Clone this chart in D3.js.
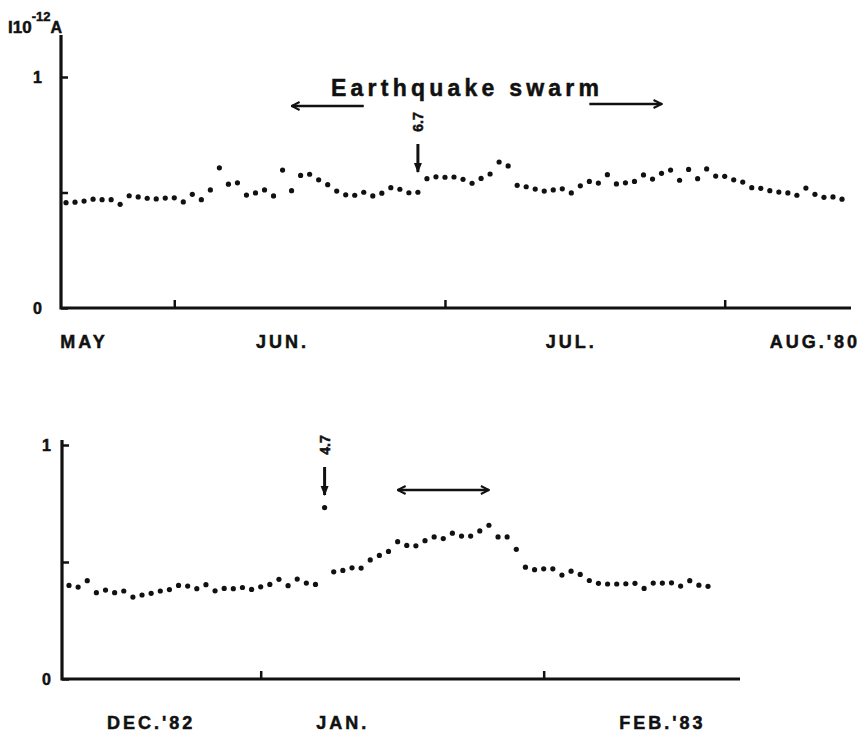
<!DOCTYPE html>
<html>
<head>
<meta charset="utf-8">
<script src="https://cdn.jsdelivr.net/npm/d3@7"></script>
<style>
body { margin: 0; background: #fff; }
svg text { font-family: "Liberation Sans", Arial, sans-serif; font-weight: bold; fill: #111; stroke: #111; stroke-width: 0.5px; }
</style>
</head>
<body>
<div id="chart"></div>
<script>

//Daily current readings (x10^-12 A), summer 1980, first value on May 20
var start1980 = "1980-05-20";
var current1980 = [
    0.456, 0.458, 0.463, 0.471, 0.469, 0.469, 0.449, 0.486, 0.481, 0.475,
    0.472, 0.476, 0.477, 0.459, 0.492, 0.469, 0.511, 0.607, 0.536, 0.542,
    0.489, 0.498, 0.511, 0.485, 0.597, 0.508, 0.574, 0.579, 0.555, 0.534,
    0.506, 0.490, 0.488, 0.501, 0.485, 0.497, 0.521, 0.514, 0.499, 0.501,
    0.560, 0.568, 0.566, 0.567, 0.557, 0.540, 0.561, 0.580, 0.632, 0.615,
    0.531, 0.525, 0.515, 0.506, 0.511, 0.516, 0.498, 0.529, 0.548, 0.541,
    0.577, 0.537, 0.542, 0.548, 0.576, 0.558, 0.583, 0.597, 0.553, 0.600,
    0.560, 0.602, 0.571, 0.570, 0.555, 0.545, 0.521, 0.518, 0.508, 0.502,
    0.498, 0.488, 0.519, 0.492, 0.479, 0.481, 0.471
];
var monthTicks1980 = ["1980-06-01", "1980-07-01", "1980-08-01"];
var monthNames1980 = ["MAY", "JUN.", "JUL.", "AUG.'80"];
var monthLabelDates1980 = ["1980-05-22", "1980-06-13", "1980-07-15", "1980-08-11"];
var quakeDate1980 = "1980-06-28";
var quakeMag1980 = "6.7";
var swarmLeft1980 = ["1980-06-22", "1980-06-14"];
var swarmRight1980 = ["1980-07-17", "1980-07-25"];

//Daily current readings, winter 1982-83, first value on Dec 11
var start1982 = "1982-12-11";
var current1982 = [
    0.400, 0.393, 0.420, 0.369, 0.380, 0.369, 0.376, 0.350, 0.359, 0.366,
    0.376, 0.382, 0.400, 0.397, 0.386, 0.403, 0.377, 0.387, 0.386, 0.391,
    0.383, 0.394, 0.404, 0.426, 0.399, 0.427, 0.410, 0.404, 0.732, 0.458,
    0.464, 0.475, 0.474, 0.509, 0.528, 0.545, 0.587, 0.571, 0.569, 0.591,
    0.607, 0.600, 0.623, 0.611, 0.611, 0.633, 0.657, 0.607, 0.607, 0.554,
    0.478, 0.467, 0.471, 0.471, 0.444, 0.461, 0.447, 0.421, 0.409, 0.406,
    0.406, 0.407, 0.409, 0.387, 0.410, 0.410, 0.411, 0.397, 0.420, 0.401,
    0.396
];
var monthTicks1982 = ["1983-01-01", "1983-02-01"];
var monthNames1982 = ["DEC.'82", "JAN.", "FEB.'83"];
var monthLabelDates1982 = ["1982-12-20", "1983-01-10", "1983-02-14"];
var quakeDate1982 = "1983-01-08";
var quakeMag1982 = "4.7";
var swarm1982 = ["1983-01-16", "1983-01-26"];

var yTicks = [0, 0.5, 1];

var parse = d3.timeParse("%Y-%m-%d");

function setChart(){

    var svg = d3.select('#chart')
        .append('svg')
        .attr('width', 868)
        .attr('height', 738)
        .style('background', '#fff');

    //Arrow heads
    var defs = svg.append('defs');
    defs.append('marker')
        .attr('id', 'head')
        .attr('viewBox', '0 0 10 10')
        .attr('refX', 9).attr('refY', 5)
        .attr('markerWidth', 4).attr('markerHeight', 4)
        .attr('orient', 'auto-start-reverse')
        .append('path')
        .attr('d', 'M1,1 L9,5 L1,9')
        .attr('fill', 'none')
        .attr('stroke', '#111')
        .attr('stroke-width', 2);
    defs.append('marker')
        .attr('id', 'solid')
        .attr('viewBox', '0 0 10 10')
        .attr('refX', 9).attr('refY', 5)
        .attr('markerWidth', 3.5).attr('markerHeight', 3.5)
        .attr('orient', 'auto')
        .append('path')
        .attr('d', 'M0,1 L10,5 L0,9 Z')
        .attr('fill', '#111');

    //Unit label
    var unit = svg.append('text').attr('x', 8).attr('y', 33).style('font-size', '17px');
    unit.append('tspan').text('I10');
    unit.append('tspan').attr('dy', -12).style('font-size', '13px').text('-12');
    unit.append('tspan').attr('dy', 12).style('font-size', '16px').text('A');

    //Top panel
    var p1 = drawPanel(svg, {
        start: start1980, values: current1980,
        x0: 61, x1: 851, yZero: 308, yOne: 77, yTop: 35,
        first: start1980, last: "1980-08-14", r0: 66, r1: 842,
        ticks: monthTicks1980, names: monthNames1980, labelDates: monthLabelDates1980,
        labelY: 348, labelPad: 19
    });

    //Earthquake swarm heading and arrows
    svg.append('text')
        .attr('x', 331).attr('y', 96)
        .attr('textLength', 268)
        .attr('lengthAdjust', 'spacing')
        .style('font-size', '23px')
        .text('Earthquake  swarm');
    svg.append('line')
        .attr('x1', p1.x(parse(swarmLeft1980[0]))).attr('x2', p1.x(parse(swarmLeft1980[1])))
        .attr('y1', 106).attr('y2', 106)
        .attr('stroke', '#111').attr('stroke-width', 2.5)
        .attr('marker-end', 'url(#head)');
    svg.append('line')
        .attr('x1', p1.x(parse(swarmRight1980[0]))).attr('x2', p1.x(parse(swarmRight1980[1])))
        .attr('y1', 104).attr('y2', 104)
        .attr('stroke', '#111').attr('stroke-width', 2.5)
        .attr('marker-end', 'url(#head)');
    drawQuake(svg, p1.x(parse(quakeDate1980)), quakeMag1980, 122, 144, 172);

    //Bottom panel
    var p2 = drawPanel(svg, {
        start: start1982, values: current1982,
        x0: 62, x1: 740, yZero: 679, yOne: 445, yTop: 440,
        first: start1982, last: "1983-02-19", r0: 69, r1: 708,
        ticks: monthTicks1982, names: monthNames1982, labelDates: monthLabelDates1982,
        labelY: 729, labelPad: 11
    });
    drawQuake(svg, p2.x(parse(quakeDate1982)), quakeMag1982, 445, 467, 495);
    svg.append('line')
        .attr('x1', p2.x(parse(swarm1982[0]))).attr('x2', p2.x(parse(swarm1982[1])))
        .attr('y1', 490).attr('y2', 490)
        .attr('stroke', '#111').attr('stroke-width', 2.5)
        .attr('marker-start', 'url(#head)')
        .attr('marker-end', 'url(#head)');
};

function drawPanel(svg, c){

    var x = d3.scaleTime()
        .domain([parse(c.first), parse(c.last)])
        .range([c.r0, c.r1]);
    var y = d3.scaleLinear()
        .domain([0, 1])
        .range([c.yZero, c.yOne]);

    var g = svg.append('g');

    //Y axis with inward stubs
    var yAxis = g.append('g')
        .attr('transform', 'translate(' + c.x0 + ',0)')
        .call(d3.axisLeft(y)
            .tickValues(yTicks)
            .tickSize(-7)
            .tickPadding(c.labelPad)
            .tickFormat(function (d) { return d === 0.5 ? '' : d3.format('d')(d); }));
    yAxis.select('.domain').remove();
    yAxis.selectAll('line').attr('stroke', '#111').attr('stroke-width', 2.5);
    yAxis.selectAll('text')
        .style('font-size', '16px')
        .style('font-family', '"Liberation Sans", Arial, sans-serif')
        .style('font-weight', 'bold')
        .attr('fill', '#111');

    //X axis with upward month ticks
    var xAxis = g.append('g')
        .attr('transform', 'translate(0,' + c.yZero + ')')
        .call(d3.axisBottom(x)
            .tickValues(c.ticks.map(parse))
            .tickSize(-8)
            .tickFormat(''));
    xAxis.select('.domain').remove();
    xAxis.selectAll('line').attr('stroke', '#111').attr('stroke-width', 2.5);

    //Axis lines
    g.append('path')
        .attr('d', 'M' + c.x0 + ',' + c.yTop + 'V' + c.yZero + 'H' + c.x1)
        .attr('fill', 'none')
        .attr('stroke', '#111')
        .attr('stroke-width', 3.2);

    //Month names
    g.selectAll('.month')
        .data(c.names)
        .enter()
        .append('text')
        .attr('class', 'month')
        .attr('x', function (d, i) { return x(parse(c.labelDates[i])); })
        .attr('y', c.labelY)
        .attr('text-anchor', 'middle')
        .style('font-size', '18px')
        .style('letter-spacing', '3px')
        .text(function (d) { return d; });

    //Daily dots
    var t0 = parse(c.start);
    g.selectAll('.dot')
        .data(c.values)
        .enter()
        .append('circle')
        .attr('class', 'dot')
        .attr('cx', function (d, i) { return x(d3.timeDay.offset(t0, i)); })
        .attr('cy', function (d) { return y(d); })
        .attr('r', 2.6)
        .attr('fill', '#111');

    return { x: x, y: y };
};

function drawQuake(svg, xq, mag, textY, y1, y2){
    svg.append('text')
        .attr('transform', 'translate(' + (xq + 5) + ',' + textY + ') rotate(-90)')
        .attr('text-anchor', 'middle')
        .style('font-size', '14px')
        .text(mag);
    svg.append('line')
        .attr('x1', xq).attr('x2', xq)
        .attr('y1', y1).attr('y2', y2)
        .attr('stroke', '#111').attr('stroke-width', 3)
        .attr('marker-end', 'url(#solid)');
};

window.onload = setChart();
</script>
</body>
</html>
